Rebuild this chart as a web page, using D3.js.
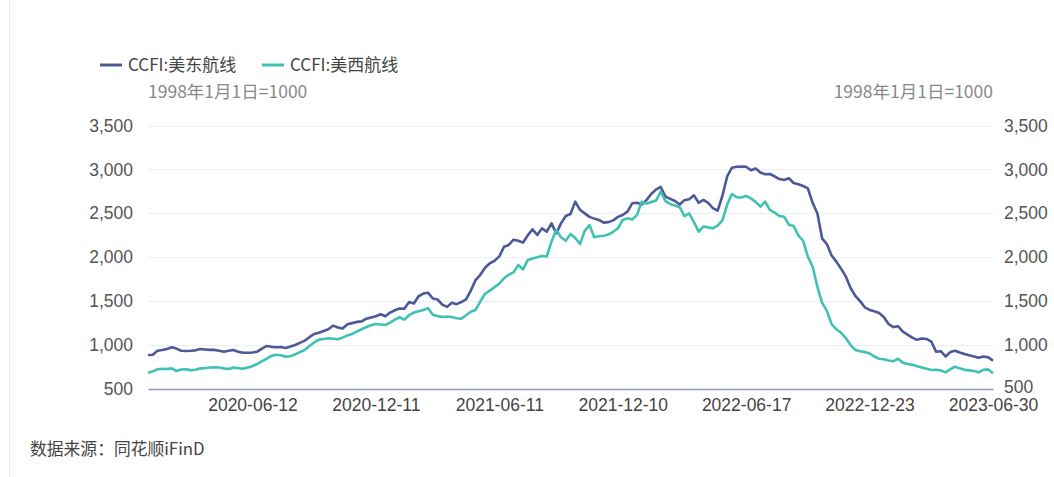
<!DOCTYPE html>
<html>
<head>
<meta charset="utf-8">
<script src="https://cdn.jsdelivr.net/npm/d3@7"></script>
<style>
  body { margin: 0; background: #fff; }
  svg { display: block; font-family: "Noto Sans CJK SC", "Noto Sans", sans-serif; }
</style>
</head>
<body>
<svg id="chart"></svg>
<script>
// weekly CCFI, first Friday of the series and the weeks with no release
var startDate = "2020-01-03";
var skippedWeeks = ["2020-01-31", "2022-02-04", "2022-10-07", "2023-01-27"];
var tickLabels = ["2020-06-12", "2020-12-11", "2021-06-11", "2021-12-10", "2022-06-17", "2022-12-23", "2023-06-30"];
var yTicks = [500, 1000, 1500, 2000, 2500, 3000, 3500];

var seriesNames = ["CCFI:美东航线", "CCFI:美西航线"];
var usEast = [
  887, 890, 935, 944, 955, 975, 960, 936, 932, 935, 940, 955, 950, 945, 945, 935, 925, 935, 945, 925,
  913, 912, 915, 925, 960, 990, 980, 975, 978, 967, 985, 1001, 1025, 1050, 1090, 1126, 1140, 1160, 1180, 1222,
  1200, 1188, 1237, 1250, 1264, 1270, 1300, 1315, 1328, 1351, 1328, 1370, 1397, 1416, 1415, 1491, 1473, 1556, 1587, 1595,
  1530, 1519, 1460, 1435, 1481, 1466, 1490, 1520, 1620, 1740, 1800, 1880, 1931, 1960, 2010, 2120, 2140, 2200, 2188, 2166,
  2250, 2318, 2253, 2329, 2291, 2386, 2272, 2386, 2470, 2492, 2633, 2540, 2500, 2460, 2440, 2424, 2394, 2400, 2420, 2460,
  2481, 2520, 2614, 2621, 2600, 2650, 2720, 2770, 2800, 2690, 2665, 2640, 2600, 2650, 2660, 2705, 2620, 2652, 2620, 2560,
  2530, 2700, 2920, 3020, 3030, 3032, 3030, 2990, 3010, 2965, 2945, 2948, 2920, 2890, 2880, 2899, 2845, 2830, 2811, 2785,
  2620, 2500, 2215, 2150, 2020, 1950, 1870, 1780, 1650, 1560, 1500, 1430, 1400, 1385, 1365, 1320, 1240, 1205, 1215, 1154,
  1120, 1085, 1060, 1075, 1070, 1040, 925, 930, 870, 920, 935, 915, 898, 885, 870, 855, 870, 860, 823
];
var usWest = [
  686, 700, 725, 731, 728, 735, 705, 722, 725, 715, 720, 735, 738, 745, 748, 745, 735, 728, 745, 738,
  730, 745, 760, 785, 815, 845, 876, 890, 885, 868, 872, 895, 920, 944, 990, 1030, 1062, 1070, 1077, 1072,
  1066, 1085, 1110, 1126, 1155, 1180, 1205, 1225, 1240, 1235, 1229, 1255, 1290, 1317, 1290, 1340, 1370, 1385, 1400, 1420,
  1344, 1330, 1320, 1325, 1320, 1305, 1300, 1340, 1380, 1400, 1496, 1584, 1620, 1660, 1700, 1761, 1800, 1830, 1913, 1860,
  1970, 1985, 2000, 2015, 2008, 2180, 2310, 2227, 2188, 2265, 2220, 2150, 2300, 2367, 2227, 2240, 2245, 2260, 2290, 2330,
  2424, 2443, 2430, 2480, 2633, 2610, 2630, 2645, 2747, 2640, 2606, 2590, 2570, 2469, 2500, 2400, 2291, 2350, 2340, 2329,
  2360, 2420, 2600, 2720, 2685, 2680, 2698, 2670, 2630, 2576, 2633, 2540, 2508, 2470, 2462, 2370, 2356, 2250, 2188, 2007,
  1894, 1666, 1480, 1390, 1240, 1180, 1140, 1080, 1000, 945, 930, 920, 905, 870, 845, 838, 825, 815, 845, 800,
  784, 775, 760, 745, 730, 716, 720, 712, 690, 725, 754, 735, 718, 712, 705, 690, 720, 723, 678
];
var colors = ["#4d5898", "#3fc2b4"];

var width = 1054, height = 477;
var margin = {left: 148, right: 61, top: 125.5, bottom: 88};

// build the list of release dates
var fmt = d3.timeFormat("%Y-%m-%d");
var dates = [];
var day = d3.timeParse("%Y-%m-%d")(startDate);
while (dates.length < usEast.length) {
    var s = fmt(day);
    if (skippedWeeks.indexOf(s) < 0) dates.push(s);
    day = d3.timeDay.offset(day, 7);
}

var svg = d3.select("#chart").attr("width", width).attr("height", height);

var x = d3.scalePoint().domain(dates).range([margin.left, width - margin.right]);
var y = d3.scaleLinear().domain([500, 3500]).range([height - margin.bottom, margin.top]);

// faint page border on the left
svg.append("line")
    .attr("x1", 9.5).attr("x2", 9.5).attr("y1", 0).attr("y2", height)
    .attr("stroke", "#ececec");

// grid lines
svg.append("g")
    .selectAll("line")
    .data(yTicks.slice(1))
    .join("line")
    .attr("x1", margin.left).attr("x2", width - margin.right)
    .attr("y1", d => Math.round(y(d)) + 0.5).attr("y2", d => Math.round(y(d)) + 0.5)
    .attr("stroke", "#eceef5");

var tickFmt = d3.format(",");

var yLeft = svg.append("g")
    .attr("transform", `translate(${margin.left},0)`)
    .call(d3.axisLeft(y).tickValues(yTicks).tickFormat(tickFmt).tickSize(0).tickPadding(15));
var yRight = svg.append("g")
    .attr("transform", `translate(${width - margin.right},0)`)
    .call(d3.axisRight(y).tickValues(yTicks).tickFormat(tickFmt).tickSize(0).tickPadding(11));
[yLeft, yRight].forEach(function(g) {
    g.select(".domain").remove();
    g.selectAll("text").attr("fill", "#555").style("font-size", "17.5px");
});
// the bottom right label sits a touch higher so it clears the last date
yRight.selectAll(".tick text").filter(d => d === 500).attr("dy", "0.2em");

var xAxis = svg.append("g")
    .attr("transform", `translate(0,${height - margin.bottom})`)
    .call(d3.axisBottom(x).tickValues(tickLabels).tickSize(0).tickPadding(10));
xAxis.select(".domain").attr("stroke", "#8f97b5").attr("stroke-width", 1.5);
xAxis.selectAll("text").attr("fill", "#444").style("font-size", "17.5px");

// lines
var line = d3.line()
    .x((d, i) => x(dates[i]))
    .y(d => y(d));

[usEast, usWest].forEach(function(values, k) {
    svg.append("path")
        .datum(values)
        .attr("fill", "none")
        .attr("stroke", colors[k])
        .attr("stroke-width", 2.6)
        .attr("stroke-linejoin", "round")
        .attr("d", line);
});

// legend
var legendX = [100, 262];
seriesNames.forEach(function(name, k) {
    var g = svg.append("g").attr("transform", `translate(${legendX[k]},65)`);
    g.append("line").attr("x1", 0).attr("x2", 22).attr("y1", 0).attr("y2", 0)
        .attr("stroke", colors[k]).attr("stroke-width", 3);
    g.append("text").attr("x", 28).attr("y", 6)
        .attr("fill", "#444").style("font-size", "17px").text(name);
});

// units
svg.append("text").attr("x", margin.left).attr("y", 97.5)
    .attr("fill", "#888").style("font-size", "17.5px").text("1998年1月1日=1000");
svg.append("text").attr("x", width - margin.right).attr("y", 97.5).attr("text-anchor", "end")
    .attr("fill", "#888").style("font-size", "17.5px").text("1998年1月1日=1000");

// source
svg.append("text").attr("x", 30).attr("y", 455)
    .attr("fill", "#444").style("font-size", "16.8px").text("数据来源：同花顺iFinD");
</script>
</body>
</html>
